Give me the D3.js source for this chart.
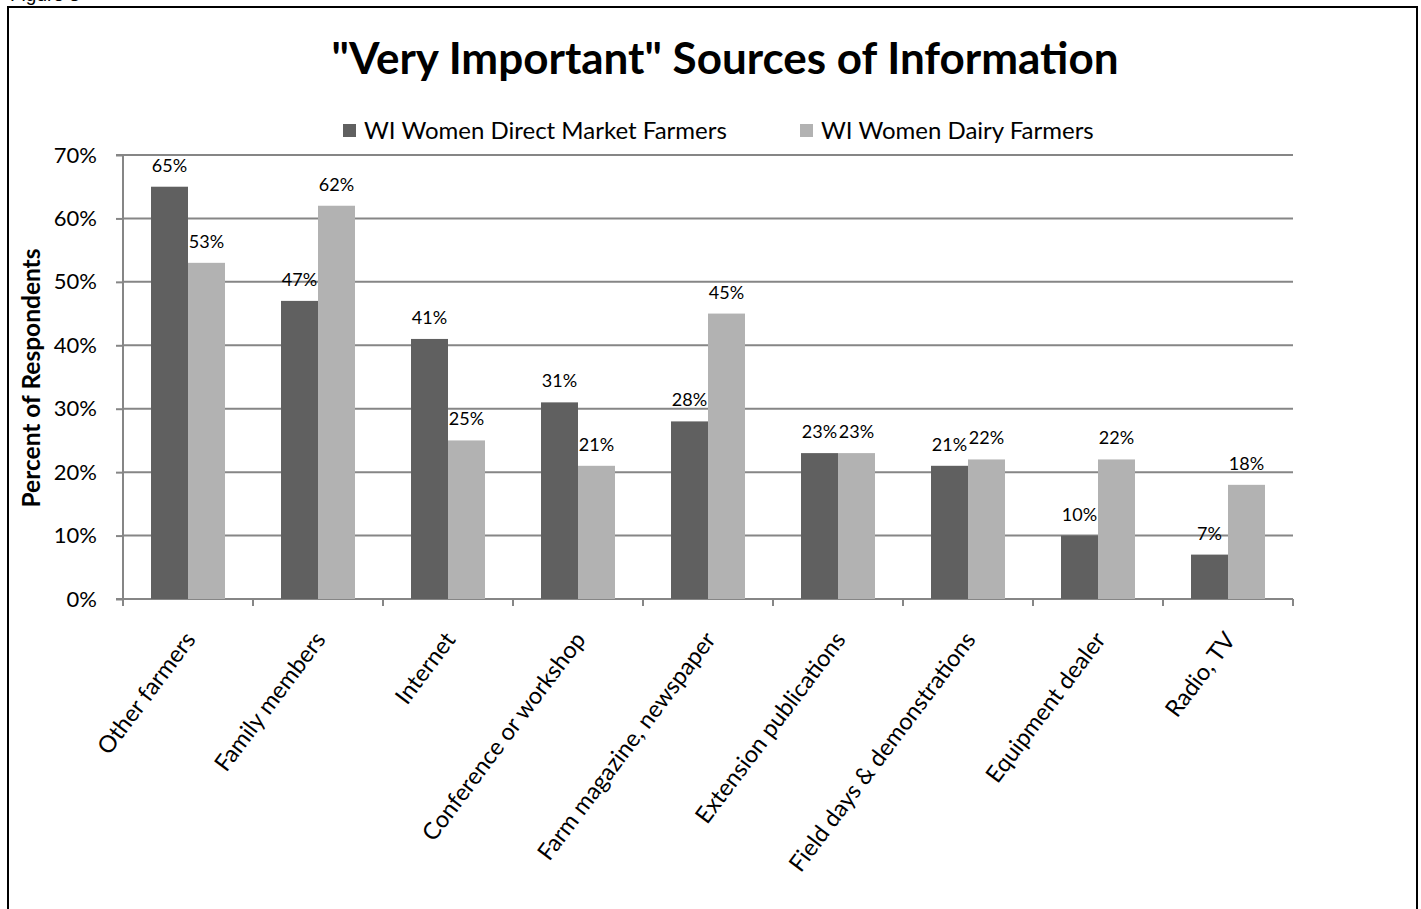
<!DOCTYPE html>
<html>
<head>
<meta charset="utf-8">
<script src="https://cdn.jsdelivr.net/npm/d3@7"></script>
<style>
  html, body { margin: 0; padding: 0; background: #fff; }
  svg { display: block; }
  text { font-family: Lato, "Open Sans", sans-serif; fill: #000; }
</style>
</head>
<body>
<svg id="chart" width="1421" height="909"></svg>
<script>
const categories = ["Other farmers", "Family members", "Internet", "Conference or workshop",
  "Farm magazine, newspaper", "Extension publications", "Field days & demonstrations",
  "Equipment dealer", "Radio, TV"];
const seriesNames = ["WI Women Direct Market Farmers", "WI Women Dairy Farmers"];
const directMarket = [65, 47, 41, 31, 28, 23, 21, 10, 7];
const dairy = [53, 62, 25, 21, 45, 23, 22, 22, 18];
const yTicks = [0, 10, 20, 30, 40, 50, 60, 70];
const colors = ["#606060", "#b2b2b2"];

const svg = d3.select("#chart");
const plot = { left: 123, right: 1293, top: 155, bottom: 599 };

// Figure caption (cut off at top in the original)
svg.append("text").attr("x", 10).attr("y", 1)
  .style("font-family", "'Liberation Sans', Arial, sans-serif")
  .style("font-size", "19px").text("Figure 3");

// outer frame
svg.append("rect").attr("x", 8).attr("y", 7).attr("width", 1409).attr("height", 1000)
  .attr("fill", "none").attr("stroke", "#000").attr("stroke-width", 2);

// title
svg.append("text").attr("x", 725).attr("y", 74).attr("text-anchor", "middle")
  .style("font-size", "44px").style("font-weight", "bold")
  .text('"Very Important" Sources of Information');

const x0 = d3.scaleBand().domain(categories).range([plot.left, plot.right]).paddingInner(0).paddingOuter(0);
const x1 = d3.scaleBand().domain([0, 1]).range([0, x0.bandwidth()]).paddingOuter(0.757).paddingInner(0);
const y = d3.scaleLinear().domain([0, 70]).range([plot.bottom, plot.top]);

// gridlines
svg.append("g").selectAll("line").data(yTicks.filter(d => d > 0)).join("line")
  .attr("x1", plot.left).attr("x2", plot.right)
  .attr("y1", d => y(d)).attr("y2", d => y(d))
  .attr("stroke", "#868686").attr("stroke-width", 2);

// y axis
const yAxis = svg.append("g").attr("transform", `translate(${plot.left},0)`)
  .call(d3.axisLeft(y).tickValues(yTicks).tickFormat(d => d + "%").tickSize(7).tickPadding(19));
yAxis.select(".domain").attr("stroke", "#868686").attr("stroke-width", 2).attr("d", `M-7,${plot.top}H0V${plot.bottom}H-7`);
yAxis.selectAll(".tick line").attr("stroke", "#868686").attr("stroke-width", 2);
yAxis.selectAll(".tick text").style("font-family", "Lato, sans-serif").style("font-size", "22px").attr("fill", "#000");

// x axis
const xAxis = svg.append("g").attr("transform", `translate(0,${plot.bottom})`);
xAxis.append("line").attr("x1", plot.left).attr("x2", plot.right).attr("y1", 0).attr("y2", 0)
  .attr("stroke", "#868686").attr("stroke-width", 2);
const xTickPos = categories.map(c => x0(c)).concat([plot.right]);
xAxis.selectAll("line.tk").data(xTickPos).join("line").attr("class", "tk")
  .attr("x1", d => d).attr("x2", d => d).attr("y1", 0).attr("y2", 7)
  .attr("stroke", "#868686").attr("stroke-width", 2);
xAxis.selectAll("text.cat").data(categories).join("text").attr("class", "cat")
  .attr("transform", d => `translate(${x0(d) + x0.bandwidth() / 2 + 2},${36}) rotate(-53)`)
  .attr("text-anchor", "end").attr("dy", "0.35em")
  .style("font-size", "23.5px").text(d => d);

// bars
const rows = categories.map((c, i) => ({ cat: c, vals: [directMarket[i], dairy[i]] }));
const groups = svg.append("g").selectAll("g").data(rows).join("g")
  .attr("transform", d => `translate(${x0(d.cat)},0)`);
groups.selectAll("rect").data(d => d.vals.map((v, k) => ({ v, k }))).join("rect")
  .attr("x", d => x1(d.k)).attr("width", x1.bandwidth())
  .attr("y", d => y(d.v)).attr("height", d => y(0) - y(d.v))
  .attr("fill", d => colors[d.k]);
groups.selectAll("text").data(d => d.vals.map((v, k) => ({ v, k }))).join("text")
  .attr("x", d => x1(d.k) + x1.bandwidth() / 2)
  .attr("y", d => y(d.v) - 15)
  .attr("text-anchor", "middle").style("font-size", "18px")
  .text(d => d.v + "%");

// y axis title
svg.append("text").attr("transform", "translate(40,378) rotate(-90)")
  .attr("text-anchor", "middle").style("font-size", "24.5px").style("font-weight", "bold")
  .text("Percent of Respondents");

// legend
const legendX = [343, 800];
const lg = svg.append("g").selectAll("g").data(seriesNames).join("g")
  .attr("transform", (d, i) => `translate(${legendX[i]},124)`);
lg.append("rect").attr("x", 0).attr("y", 0).attr("width", 13).attr("height", 13)
  .attr("fill", (d, i) => colors[i]);
lg.append("text").attr("x", 21).attr("y", 15).style("font-size", "24px").text(d => d);
</script>
</body>
</html>
